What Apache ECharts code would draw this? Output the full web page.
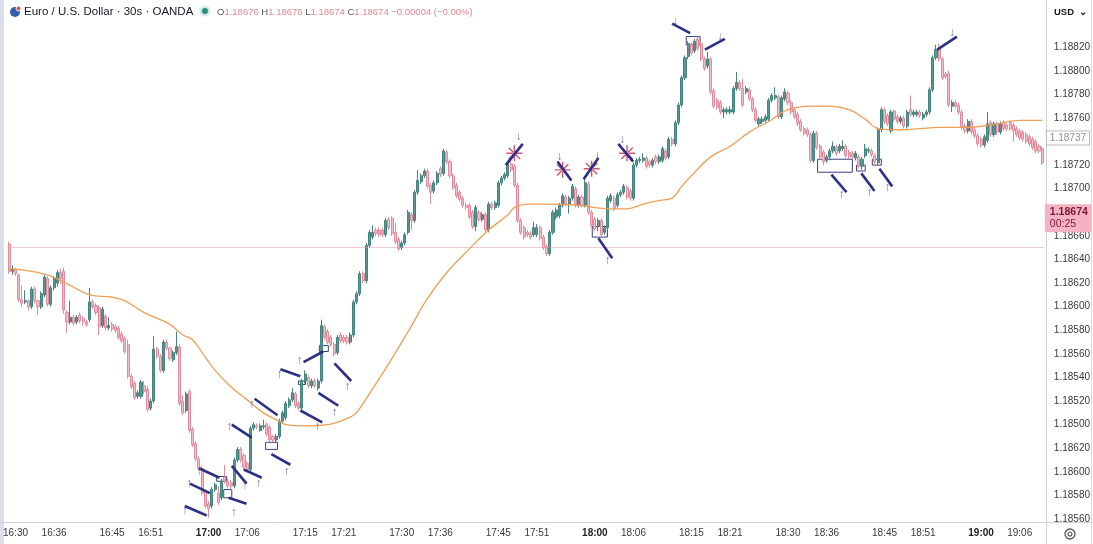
<!DOCTYPE html>
<html><head><meta charset="utf-8">
<script src="https://cdn.jsdelivr.net/npm/echarts@6/dist/echarts.min.js"></script>
<style>html,body{margin:0;padding:0;background:#fff}#c{width:1093px;height:544px}</style>
</head><body><div id="c"></div>
<script>
// Prices are stored in points (1e-5) above 1.18000, e.g. 653 = 1.18653
const startTime = '16:29:00';            // first 30s candle
const xLabelTimes = ['16:30','16:36','16:45','16:51','17:00','17:06','17:15','17:21','17:30','17:36','17:45','17:51','18:00','18:06','18:15','18:21','18:30','18:36','18:45','18:51','19:00','19:06'];
const boldTimes = ['17:00','18:00','19:00'];

const opens = [
653,630,632,627,606,604,605,600,615,605, 600,610,624,602,616,620,629,630,595,587,
591,587,593,590,587,589,604,601,599,584, 592,582,585,583,582,577,573,568,541,535,
524,524,533,530,514,520,564,558,546,570, 565,555,561,566,520,512,528,496,484,471,
463,443,433,431,445,442,438,455,452,451, 448,470,479,474,467,462,497,499,495,498,
500,498,490,487,490,503,506,516,521,526, 518,514,537,540,533,537,531,537,583,579,
574,568,561,576,574,574,570,576,604,611, 628,622,652,659,665,665,665,661,674,675,
663,657,650,654,663,678,673,697,706,711, 715,703,698,705,717,713,731,723,711,703,
697,692,686,686,680,668,680,674,678,665, 687,684,686,705,709,711,721,719,703,673,
667,663,662,661,661,667,659,651,645,663, 676,677,686,693,687,692,700,686,693,686,
704,680,674,668,673,663,667,690,692,686, 695,697,701,698,692,720,724,724,726,723,
720,727,723,724,732,727,742,738,756,771, 794,812,822,817,827,823,810,804,810,783,
775,773,765,765,765,765,785,790,785,782, 784,776,767,755,757,758,759,775,777,778,
761,776,781,773,767,763,757,751,750,746, 724,747,736,731,724,727,732,735,732,734,
736,731,730,726,727,719,728,732,732,728, 722,750,767,762,749,766,761,757,760,753,
767,763,763,765,760,763,765,784,811,819, 810,797,798,770,773,771,765,753,749,757,
750,745,742,737,741,756,746,755,748,756, 754,756,754,751,749,748,746,744,742,740,736,734];
const closes = [
630,632,628,606,603,605,600,615,605,600, 611,625,602,616,624,629,624,597,587,591,
586,591,588,587,585,604,600,595,583,598, 582,584,581,580,574,571,562,541,532,523,
527,536,528,513,520,564,558,546,570,565, 556,561,566,518,510,526,495,483,471,463,
442,431,429,445,449,434,452,452,448,448, 470,479,470,464,462,497,500,498,499,499,
492,487,487,490,503,510,518,521,527,516, 514,537,543,533,537,533,537,584,574,570,
568,560,574,571,571,570,576,604,611,628, 622,652,663,663,662,661,661,673,667,662,
655,649,654,661,680,673,697,707,711,715, 702,697,705,713,712,732,723,711,701,694,
691,686,684,676,668,684,674,678,665,687, 684,688,705,709,712,721,716,703,673,663,
659,661,659,667,667,658,650,645,663,680, 682,686,694,687,692,702,686,693,686,705,
680,669,666,673,661,667,692,694,683,695, 697,702,693,692,720,724,725,726,719,720,
724,723,727,734,726,742,738,756,771,794, 811,823,815,825,819,810,802,810,782,770,
769,765,767,767,767,785,790,785,771,785, 776,767,758,759,759,761,775,779,779,761,
777,782,773,765,761,755,750,747,746,724, 747,735,727,723,727,732,736,730,736,736,
728,727,727,730,719,725,734,733,729,723, 750,767,757,755,765,759,757,760,753,765,
763,765,765,762,763,765,784,811,818,810, 794,795,771,773,770,765,752,749,757,748,
745,738,737,744,755,746,755,748,755,751, 751,751,749,746,743,742,740,738,735,732,732,722];
const lows = [
628,627,626,604,600,602,597,598,603,593, 598,608,600,600,614,617,619,594,578,585,
584,585,586,584,583,587,598,593,576,582, 580,580,579,578,572,569,560,539,530,521,
522,522,526,511,512,518,556,544,544,563, 554,553,559,516,508,510,493,481,469,461,
440,429,421,429,443,432,436,450,446,445, 446,468,468,462,460,460,495,496,494,496,
490,485,485,485,488,501,504,514,519,514, 512,512,535,531,531,531,529,535,572,568,
566,558,559,569,569,568,568,574,602,609, 620,620,650,657,660,659,659,659,665,660,
653,647,648,652,661,665,671,695,704,709, 700,687,696,703,710,711,721,709,699,692,
689,684,682,674,666,664,672,672,663,663, 682,682,684,703,707,709,714,701,671,661,
657,659,657,659,659,656,648,643,643,661, 674,675,684,685,679,690,684,684,684,684,
678,667,664,664,659,661,665,688,681,684, 693,695,691,690,690,718,722,722,717,718,
718,721,721,722,724,725,736,736,754,769, 792,810,813,815,817,808,800,802,780,768,
767,763,760,763,763,763,783,783,769,780, 774,765,756,753,755,756,757,773,775,759,
759,774,771,763,759,753,748,745,744,722, 722,733,725,720,722,725,730,728,730,732,
726,725,725,724,717,716,726,730,727,719, 720,748,755,753,747,757,755,755,751,751,
761,761,761,760,758,761,763,782,809,808, 792,793,769,765,768,763,750,747,747,746,
743,736,735,735,739,744,744,746,746,749, 749,749,740,744,741,740,738,736,733,730,730,720];
const highs = [
655,635,633,628,618,614,606,617,617,606, 613,627,626,618,626,631,632,633,597,605,
593,593,595,592,589,616,606,603,601,600, 594,591,587,585,584,579,575,572,543,537,
529,538,537,533,522,575,566,560,572,572, 566,563,579,568,525,528,530,498,486,473,
465,445,435,447,451,448,454,466,454,453, 472,481,481,476,469,499,502,501,501,504,
502,500,491,492,505,512,520,523,531,528, 520,539,546,542,539,539,539,589,585,581,
576,570,576,578,576,576,578,606,613,630, 630,654,665,669,667,667,667,675,676,677,
671,659,656,663,682,680,699,716,713,717, 717,705,707,715,719,734,733,725,713,705,
699,694,688,688,682,686,682,680,680,689, 689,690,707,711,714,723,725,721,705,675,
669,665,664,672,670,669,661,653,665,682, 684,688,696,695,694,704,702,695,695,708,
706,682,676,675,675,669,694,696,694,697, 699,704,703,700,722,726,727,730,728,725,
726,729,729,736,734,744,744,758,773,796, 813,825,824,827,829,825,812,816,812,785,
777,775,769,769,770,787,799,792,793,787, 786,778,769,761,761,763,777,781,786,780,
779,785,783,775,769,765,759,753,752,748, 749,749,738,733,729,734,740,737,738,741,
738,733,732,732,729,727,738,735,734,730, 752,769,769,764,767,767,763,762,762,767,
779,767,767,767,765,767,786,813,822,823, 812,799,800,775,775,773,767,755,759,759,
752,747,744,746,765,758,757,757,757,758, 756,758,756,753,751,750,748,746,744,742,738,736];

// moving average (read at sampled candle indices)
const maIdx = [0,7,13,19,25,32,36,42,50,54,57,61,64,69,74,79,84,86,92,99,103,107,109,118,124,130,136,143,149,155,157,161,166,177,182,187,192,197,202,206,209,212,218,224,230,236,242,249,255,261,266,270,277,283,289,298,307,314,321];
const maVal = [632,630,626,618,610,608,605,595,585,576,572,557,546,532,521,510,503,500,499,500,503,508,514,552,579,607,629,649,665,678,684,687,687,686,684,683,683,687,690,692,702,711,727,736,748,757,767,770,770,767,759,751,750,751,752,752,755,758,758];

// y-axis tick values and the labels printed next to them
const yTickValues = [420,440,460,480,500,520,540,560,580,600,620,640,660,680,700,720,740,760,780,800,820];
const yTickLabels = ['1.18560','1.18580','1.18600','1.18620','1.18500','1.18520','1.18540','1.18560','1.18580','1.18600','1.18620','1.18640','1.18660','1.18680','1.18700','1.18720','1.18740','1.18760','1.18780','1.18800','1.18820'];

// price line / price labels
const dottedPrice = 650;
const greyPriceVal = 743, greyPriceText = '1.18737';
const pinkPriceVal = 675, pinkPriceText = '1.18674', pinkCountdown = '00:25';

// drawn annotations (candle index, price points)
const annLines = [[154.3,720,159.6,738],[170.4,723,174.7,707],[178.5,708,183.1,726],[189.3,738,193.9,723],[206,840,211.6,832],[216.2,818,222.4,827],[288.4,818,294.5,829],[255.5,712,260.2,697],[264.8,713,268.9,698],[270.4,717,274.4,702],[183.1,658,187.4,641],[59,463,65.4,455],[56.2,450,62.4,442],[54.6,431,61.4,423],[68.2,438,73.8,433],[69.2,465,73.8,450],[72.9,462,78.5,455],[69.2,500,75.4,489],[76.3,522,83.4,508],[81.5,475,87.4,466],[84.3,547,90.5,541],[90.5,512,97.3,502],[91.5,553,97.6,562],[96.1,527,102.3,516],[101.1,552,106.3,537]];
const annBoxes = [[210.4,829,214.7,822],[251.2,725,262,714],[263.3,720,266,715],[268.2,725,271,720],[181.2,668,185.9,659],[64.5,456,67.6,452],[66.7,445,69.2,438],[79.7,485,83.4,479],[89.9,537,92.1,534],[96.4,567,99.2,562]];
const downArrows = [[158.3,744],[171,727],[182.8,728],[190.5,742],[206.9,842],[220.9,829],[293,832]];
const upArrows = [[258.6,695],[267.3,697],[272.9,701],[185.9,639],[59,460],[55.9,450],[54.6,427],[69.8,425],[73.2,448],[77.5,450],[68.5,498],[75.4,517],[86.2,460],[84,542],[95.8,498],[90.2,554],[101.1,510],[105.1,532]];
const stars = [[157,730],[172,716],[181,717],[192,730]];

// ---------- build ----------
const N = opens.length;
const categories = [];
{
  const p = startTime.split(':').map(Number);
  let s = p[0]*3600 + p[1]*60 + p[2];
  for (let i = 0; i < N; i++, s += 30) {
    const h = Math.floor(s/3600), m = Math.floor((s%3600)/60), sec = s%60;
    categories.push(String(h).padStart(2,'0')+':'+String(m).padStart(2,'0')+':'+String(sec).padStart(2,'0'));
  }
}
const candleData = opens.map((o,i)=>[o, closes[i], lows[i], highs[i]]);
const maData = maIdx.map((x,i)=>[x, maVal[i]]);
const yLabelMap = {};
yTickValues.forEach((v,i)=>{ yLabelMap[v] = yTickLabels[i]; });

const AX_FONT = '"Liberation Sans",sans-serif';
const starPath = 'path://M-10,-0.9L10,-0.9L10,0.9L-10,0.9Z M-0.9,-10L0.9,-10L0.9,10L-0.9,10Z M6.43,7.7L7.7,6.43L-6.43,-7.7L-7.7,-6.43Z M-7.7,6.43L-6.43,7.7L7.7,-6.43L6.43,-7.7Z';
const NAVY = '#2c2f86';
const CLEAR = 'rgba(0,0,0,0)';

const chart = echarts.init(document.getElementById('c'), null, {renderer:'canvas'});
chart.setOption({
  animation: false,
  backgroundColor: '#ffffff',
  grid: {left: 5, right: 48, top: -12.25, bottom: 1.4, containLabel: false},
  xAxis: [{
    type: 'category', data: categories, boundaryGap: true, offset: -20.6,
    axisLine: {show: false}, axisTick: {show: false}, splitLine: {show: false},
    axisLabel: {
      interval: (idx, val) => val.endsWith(':00') && xLabelTimes.includes(val.slice(0,5)),
      formatter: (val) => boldTimes.includes(val.slice(0,5)) ? '{b|'+val.slice(0,5)+'}' : val.slice(0,5),
      color: '#3a3a3a', fontSize: 10, fontFamily: AX_FONT, margin: 6,
      rich: {b: {fontWeight: 'bold', fontSize: 10, fontFamily: AX_FONT, color: '#222'}}
    }
  }, {
    type: 'value', min: -0.5, max: N - 0.5, show: false
  }],
  yAxis: [{
    type: 'value', position: 'right', min: 400, max: 860, interval: 20,
    axisLine: {show: false}, axisTick: {show: false}, splitLine: {show: false},
    axisLabel: {
      formatter: (v) => yLabelMap[v] || '', align: 'left',
      color: '#3a3a3a', fontSize: 10, fontFamily: AX_FONT, margin: 10
    }
  }],
  series: [{
    type: 'candlestick', data: candleData, xAxisIndex: 0, yAxisIndex: 0,
    barWidth: '80%',
    itemStyle: {color: '#559690', color0: '#f4bcc5', borderColor: '#458580', borderColor0: '#e08c9c', borderWidth: 1},
    markLine: {
      silent: true, symbol: 'none', animation: false,
      data: [
        {yAxis: dottedPrice, lineStyle: {type: 'dotted', color: '#e596a2', width: 1}, label: {show: false}},
        {yAxis: greyPriceVal, lineStyle: {color: CLEAR, width: 0.1},
          label: {show: true, position: 'end', distance: 3, formatter: greyPriceText,
          backgroundColor: '#ffffff', borderColor: '#b5b8c0', borderWidth: 1, padding: [2,3,1,3], color: '#8a8f99', fontSize: 10, fontFamily: AX_FONT, opacity: 1}},
        {yAxis: pinkPriceVal, lineStyle: {color: CLEAR, width: 0.1},
          label: {show: true, position: 'end', distance: 1, formatter: '{p|'+pinkPriceText+'}\n{t|'+pinkCountdown+'}',
          backgroundColor: '#f4b3c2', padding: [2,4,2,5], color: '#7d1838', opacity: 1,
          rich: {p: {fontSize: 10.5, fontWeight: 'bold', color: '#7d1838', fontFamily: AX_FONT, lineHeight: 12},
                 t: {fontSize: 10.5, color: '#7d1838', fontFamily: AX_FONT, lineHeight: 12}}}}
      ]
    }
  }, {
    type: 'line', data: maData, xAxisIndex: 1, yAxisIndex: 0, smooth: 0.4,
    showSymbol: false, lineStyle: {color: '#ef9f55', width: 1.3}, z: 3
  }, {
    type: 'lines', coordinateSystem: 'cartesian2d', xAxisIndex: 1, yAxisIndex: 0,
    data: annLines.map(a => ({coords: [[a[0],a[1]],[a[2],a[3]]]})),
    lineStyle: {color: NAVY, width: 2.6, opacity: 1}, z: 5, silent: true
  }, {
    type: 'scatter', xAxisIndex: 1, yAxisIndex: 0, data: upArrows, symbolSize: 1, z: 6, clip: false,
    itemStyle: {color: CLEAR},
    label: {show: true, position: 'inside', formatter: '↑', color: '#4b4f99', fontSize: 12, fontWeight: 'bold'},
    markArea: {silent: true,
      itemStyle: {color: 'rgba(255,255,255,0)', borderColor: '#3b3f7e', borderWidth: 1},
      data: annBoxes.map(b => [{coord: [b[0], b[1]]}, {coord: [b[2], b[3]]}])}
  }, {
    type: 'scatter', xAxisIndex: 1, yAxisIndex: 0, data: downArrows, symbolSize: 1, z: 6, clip: false,
    itemStyle: {color: CLEAR},
    label: {show: true, position: 'inside', formatter: '↓', color: '#4b4f99', fontSize: 12, fontWeight: 'bold'}
  }, {
    type: 'scatter', xAxisIndex: 1, yAxisIndex: 0, data: stars, symbol: starPath, symbolSize: 16, z: 4, clip: false,
    itemStyle: {color: '#c42d4d'}
  }],
  graphic: [
    {type: 'rect', left: 0, top: 0, shape: {x: 0, y: 0, width: 4, height: 544}, style: {fill: '#d9dee8'}, silent: true},
    {type: 'line', shape: {x1: 0, y1: 522.5, x2: 1093, y2: 522.5}, style: {stroke: '#cfd1d6', lineWidth: 1}, silent: true},
    {type: 'line', shape: {x1: 1046.5, y1: 0, x2: 1046.5, y2: 544}, style: {stroke: '#cfd1d6', lineWidth: 1}, silent: true},
    {type: 'line', shape: {x1: 1091.5, y1: 0, x2: 1091.5, y2: 544}, style: {stroke: '#d9dce2', lineWidth: 1}, silent: true},
    {type: 'circle', shape: {cx: 15, cy: 12, r: 5}, style: {fill: '#2e5fa8'}, silent: true},
    {type: 'circle', shape: {cx: 18.5, cy: 8.5, r: 2.4}, style: {fill: '#e04b4b', stroke: '#fff', lineWidth: 1}, silent: true},
    {type: 'text', x: 24, y: 12, style: {text: 'Euro / U.S. Dollar · 30s · OANDA', fill: '#131722', fontSize: 11.5, fontFamily: '"Liberation Sans",sans-serif', verticalAlign: 'middle'}, silent: true},
    {type: 'circle', shape: {cx: 205, cy: 11, r: 5.5}, style: {fill: '#d5ece6'}, silent: true},
    {type: 'circle', shape: {cx: 205, cy: 11, r: 3}, style: {fill: '#26927e'}, silent: true},
    {type: 'text', x: 217, y: 12, style: {
      text: '{k|O}{v|1.18676} {k|H}{v|1.18676} {k|L}{v|1.18674} {k|C}{v|1.18674} {v|−0.00004 (−0.00%)}',
      verticalAlign: 'middle', fontSize: 9.5, fontFamily: '"Liberation Sans",sans-serif',
      rich: {k: {fill: '#555a66', fontSize: 9.5, fontFamily: '"Liberation Sans",sans-serif'}, v: {fill: '#e08890', fontSize: 9.5, fontFamily: '"Liberation Sans",sans-serif'}}}, silent: true},
    {type: 'text', x: 1054, y: 12, style: {text: 'USD  ⌄', fill: '#131722', fontSize: 9.5, fontWeight: 'bold', fontFamily: '"Liberation Sans",sans-serif', verticalAlign: 'middle'}, silent: true},
    {type: 'circle', shape: {cx: 1070, cy: 534, r: 5}, style: {fill: 'none', stroke: '#555', lineWidth: 1.3}, silent: true},
    {type: 'circle', shape: {cx: 1070, cy: 534, r: 2}, style: {fill: 'none', stroke: '#555', lineWidth: 1.1}, silent: true}
  ]
});
</script>
</body></html>
